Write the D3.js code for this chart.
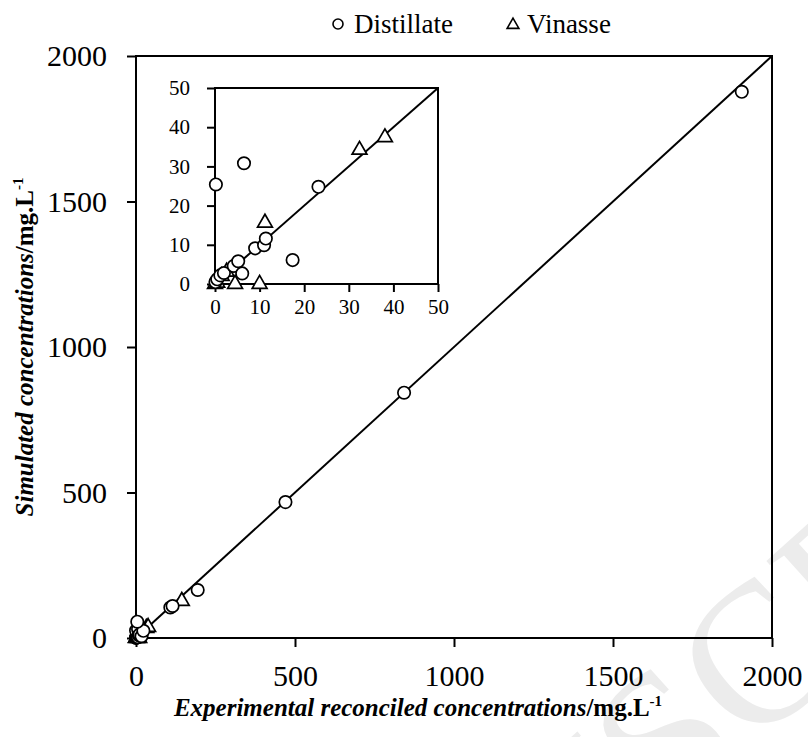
<!DOCTYPE html>
<html><head><meta charset="utf-8">
<script src="https://cdn.jsdelivr.net/npm/d3@7"></script>
<style>body{margin:0;background:#fff} svg{display:block}</style>
</head><body>
<svg id="c" width="808" height="737"></svg>
<script>
// ---- data ----
const seriesNames = ["Distillate", "Vinasse"];
const distillateX = [0.1, 0.5, 1.2, 2.0, 4.2, 5.2, 6.1, 0.2, 6.5, 9.0, 11.0, 11.4, 17.4, 23.2, 4, 108, 115, 194, 470, 843, 1905];
const distillateY = [0.5, 1.2, 2.2, 2.8, 4.6, 5.8, 2.7, 25.4, 30.8, 9.1, 9.9, 11.6, 6.1, 24.8, 56, 105, 110, 165, 467, 843, 1877];
const vinasseX = [0, 0.5, 1.5, 2.6, 4.5, 10.0, 11.2, 32.4, 38.1, 144];
const vinasseY = [0, 0.3, 2.0, 3.1, 0, 0, 15.6, 34.2, 37.4, 127];
const mainTicks = [0, 500, 1000, 1500, 2000];
const insetTicks = [0, 10, 20, 30, 40, 50];
const xTitle = "Experimental reconciled concentrations";
const yTitle = "Simulated concentrations";
const unitText = "/mg.L";
const unitExp = "-1";

const FONT = "'Liberation Serif', 'DejaVu Serif', serif";
const svg = d3.select("#c");

// watermark
const wm = svg.append("g").attr("transform", "translate(668,826) rotate(-42)")
  .style("font-family", FONT).style("font-size", "200px").attr("fill", "#ececec");
wm.append("text").attr("x", 0).attr("y", 0).text("SCRIPT");
wm.append("text").attr("x", 0).attr("y", 0).attr("text-anchor", "end").text("MANU");

const dist = distillateX.map((x, i) => ({x, y: distillateY[i]}));
const vin = vinasseX.map((x, i) => ({x, y: vinasseY[i]}));

function panel(g, xs, ys, ticks, o) {
  const [x0, x1] = xs.range(), [y0, y1] = ys.range();
  const ax = g.append("g").attr("transform", `translate(0,${y0})`)
    .call(d3.axisBottom(xs).tickValues(ticks).tickSize(o.ts).tickPadding(o.px).tickFormat(d3.format("d")));
  const ay = g.append("g").attr("transform", `translate(${x0},0)`)
    .call(d3.axisLeft(ys).tickValues(ticks).tickSize(o.ts).tickPadding(o.py).tickFormat(d3.format("d")));
  [ax, ay].forEach(a => {
    a.select(".domain").remove();
    a.selectAll("line").attr("stroke", "#000").attr("stroke-width", o.sw);
    a.selectAll("text").attr("fill", "#000").style("font-family", FONT).style("font-size", o.fs + "px");
  });
  g.append("rect").attr("x", x0).attr("y", y1).attr("width", x1 - x0).attr("height", y0 - y1)
    .attr("fill", "none").attr("stroke", "#000").attr("stroke-width", o.sw);
  g.append("line").attr("x1", xs(ticks[0])).attr("y1", ys(ticks[0]))
    .attr("x2", xs(ticks[ticks.length - 1])).attr("y2", ys(ticks[ticks.length - 1]))
    .attr("stroke", "#000").attr("stroke-width", 2);
  const lim = ticks[ticks.length - 1];
  const tri = d3.symbol().type(d3.symbolTriangle).size(95);
  g.selectAll(".tri").data(vin.filter(d => d.x <= lim && d.y <= lim)).join("path")
    .attr("d", tri).attr("transform", d => `translate(${xs(d.x)},${ys(d.y)})`)
    .attr("fill", "#fff").attr("stroke", "#000").attr("stroke-width", 1.7);
  g.selectAll(".cir").data(dist.filter(d => d.x <= lim && d.y <= lim)).join("circle")
    .attr("cx", d => xs(d.x)).attr("cy", d => ys(d.y)).attr("r", 6.2)
    .attr("fill", "#fff").attr("stroke", "#000").attr("stroke-width", 1.7);
}

// main panel
const mx = d3.scaleLinear([0, 2000], [136, 772]);
const my = d3.scaleLinear([0, 2000], [638, 56]);
panel(svg.append("g"), mx, my, mainTicks, {ts: 9, px: 18, py: 20, fs: 30, sw: 2});

// inset panel
const ix = d3.scaleLinear([0, 50], [215, 438]);
const iy = d3.scaleLinear([0, 50], [284, 88]);
panel(svg.append("g"), ix, iy, insetTicks, {ts: 8, px: 7, py: 17, fs: 21, sw: 2});

// legend
const lg = svg.append("g").style("font-family", FONT).style("font-size", "27px");
lg.append("circle").attr("cx", 338).attr("cy", 24).attr("r", 5).attr("fill", "#fff").attr("stroke", "#000").attr("stroke-width", 1.6);
lg.append("text").attr("x", 354).attr("y", 33).text(seriesNames[0]);
lg.append("path").attr("d", d3.symbol().type(d3.symbolTriangle).size(60)())
  .attr("transform", "translate(513,25)").attr("fill", "#fff").attr("stroke", "#000").attr("stroke-width", 1.6);
lg.append("text").attr("x", 527).attr("y", 33).text(seriesNames[1]);

// axis titles
function title(t, main, fs) {
  t.style("font-family", FONT).style("font-size", fs + "px").style("font-weight", "bold").attr("fill", "#000");
  t.append("tspan").style("font-style", "italic").text(main);
  t.append("tspan").text(unitText);
  t.append("tspan").attr("dy", -10).style("font-size", "15px").text(unitExp);
}
const xt = svg.append("text").attr("x", 418).attr("y", 716).attr("text-anchor", "middle");
title(xt, xTitle, 25);
const yt = svg.append("text").attr("transform", "translate(33,347) rotate(-90)").attr("text-anchor", "middle");
title(yt, yTitle, 25);
</script>
</body></html>
